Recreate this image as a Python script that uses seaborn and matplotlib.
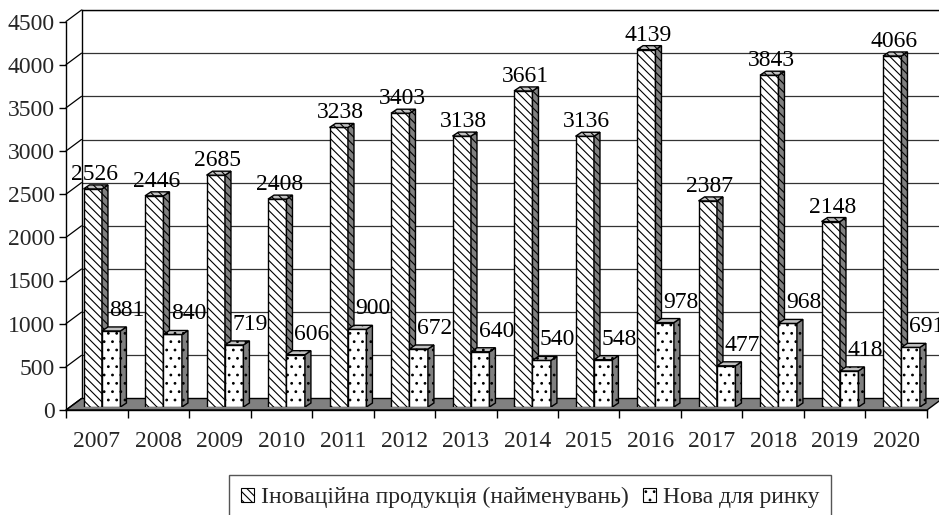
import matplotlib
matplotlib.use('Agg')
import matplotlib.pyplot as plt
import seaborn as sns
import pandas as pd
from matplotlib.patches import Polygon, Patch, Rectangle
from matplotlib.lines import Line2D

# ---------------- data ----------------
years = ['2007', '2008', '2009', '2010', '2011', '2012', '2013',
         '2014', '2015', '2016', '2017', '2018', '2019', '2020']
innov = [2526, 2446, 2685, 2408, 3238, 3403, 3138, 3661, 3136, 4139, 2387, 3843, 2148, 4066]
new_market = [881, 840, 719, 606, 900, 672, 640, 540, 548, 978, 477, 968, 418, 691]
series_names = ['Іноваційна продукція (найменувань)', 'Нова для ринку']
yticks = list(range(0, 4501, 500))

df = pd.DataFrame({
    'year': years * 2,
    'value': innov + new_market,
    'series': [series_names[0]] * len(years) + [series_names[1]] * len(years),
})

# ---------------- style ----------------
sns.set_theme(style='white')
plt.rcParams['font.family'] = ['Liberation Serif', 'DejaVu Serif']
plt.rcParams['hatch.linewidth'] = 0.8
plt.rcParams['hatch.color'] = 'black'
FS = 17
LFS = 17
HATCH1 = '\\\\\\\\'
HATCH2 = '..'

W, H = 939, 515
fig = plt.figure(figsize=(W / 100, H / 100), dpi=100)
fig.patch.set_facecolor('white')

X0, X1 = 66, 927        # front axis extent (px)
Y0, Y1 = 410, 21.5      # front y=0 and y=4500 (px)
DX, DY = 15.5, 11.5     # depth of back wall
BY = 3                  # bars plane raised
XL = (-0.585, 13.415)
YL = (0, 4500)


def rect(x0, x1, y0, y1):
    return [x0 / W, 1 - y0 / H, (x1 - x0) / W, (y0 - y1) / H]


def fx(px):
    return px / W


def fy(py):
    return 1 - py / H


# back wall with gridlines
ax_back = fig.add_axes(rect(X0 + DX, X1 + DX, Y0 - DY, Y1 - DY), zorder=0)
ax_back.set_xlim(XL)
ax_back.set_ylim(YL)
ax_back.set_yticks(yticks)
ax_back.set_xticks([])
ax_back.tick_params(left=False, labelleft=False, bottom=False)
ax_back.grid(axis='y', color='#333333', lw=0.9)
ax_back.grid(axis='x', visible=False)
for s in ['right', 'bottom']:
    ax_back.spines[s].set_visible(False)
for s in ['left', 'top']:
    ax_back.spines[s].set_visible(True)
    ax_back.spines[s].set_color('black')
    ax_back.spines[s].set_linewidth(1)
ax_back.set_facecolor('white')

# floor
floor = Polygon([(fx(X0), fy(Y0)), (fx(X1), fy(Y0)),
                 (fx(X1 + DX), fy(Y0 - DY)), (fx(X0 + DX), fy(Y0 - DY))],
                closed=True, transform=fig.transFigure,
                facecolor='#808080', edgecolor='black', lw=1, zorder=0.5)
fig.add_artist(floor)

# side wall diagonals
for v in yticks:
    py = Y0 - (Y0 - Y1) * v / YL[1]
    fig.add_artist(Line2D([fx(X0), fx(X0 + DX)], [fy(py), fy(py - DY)],
                          transform=fig.transFigure, color='black', lw=0.9, zorder=0.6))

# front axes (ticks and labels)
ax_front = fig.add_axes(rect(X0, X1, Y0, Y1), zorder=1)
ax_front.patch.set_visible(False)
ax_front.set_xlim(XL)
ax_front.set_ylim(YL)
ax_front.grid(False)
for s in ['top', 'right']:
    ax_front.spines[s].set_visible(False)
for s in ['left', 'bottom']:
    ax_front.spines[s].set_visible(True)
    ax_front.spines[s].set_color('black')
    ax_front.spines[s].set_linewidth(1)
ax_front.set_yticks(yticks)
ax_front.set_yticklabels([str(v) for v in yticks], fontsize=FS)
ax_front.tick_params(axis='y', direction='out', length=5, width=1, color='black', pad=3, left=True)
ax_front.set_xticks([i - 0.085 for i in range(len(years))])
ax_front.set_xticklabels(years, fontsize=FS)
ax_front.set_xticks([k - 0.585 for k in range(len(years) + 1)], minor=True)
ax_front.tick_params(axis='x', which='major', length=0, pad=15)
ax_front.tick_params(axis='x', which='minor', direction='out', length=6, width=1, color='black', bottom=True)

# bars
ax_bars = fig.add_axes(rect(X0, X1, Y0 - BY, Y1 - BY), zorder=2)
sns.barplot(data=df, x='year', y='value', hue='series', ax=ax_bars,
            width=0.6, palette=['white', 'white'], saturation=1,
            edgecolor='black', linewidth=1, legend=False)
ax_bars.set_xlim(XL)
ax_bars.set_ylim(YL)
ax_bars.axis('off')

ux = (X1 - X0) / (XL[1] - XL[0])
uy = (Y0 - Y1) / (YL[1] - YL[0])
dxd = 6 / ux
dyd = 4 / uy

for p in list(ax_bars.patches):
    if not isinstance(p, Rectangle):
        continue
    x0 = p.get_x()
    w = p.get_width()
    h = p.get_height()
    cx = x0 + w / 2
    i = int(round(cx))
    first = cx < i
    hatch = HATCH1 if first else HATCH2
    base = 3 + i * 0.1 + (0 if first else 0.03)
    p.set_hatch(hatch)
    p.set_zorder(base)
    x1 = x0 + w
    side = Polygon([(x1, 0), (x1, h), (x1 + dxd, h + dyd), (x1 + dxd, dyd)], closed=True,
                   facecolor='#808080', edgecolor='black', lw=1, hatch=hatch, zorder=base + 0.01)
    top = Polygon([(x0, h), (x1, h), (x1 + dxd, h + dyd), (x0 + dxd, h + dyd)], closed=True,
                  facecolor='#c0c0c0', edgecolor='black', lw=1, hatch=hatch, zorder=base + 0.02)
    ax_bars.add_patch(side)
    ax_bars.add_patch(top)
    if first:
        ax_bars.annotate(str(innov[i]), xy=(cx, h), xytext=(2, 9), textcoords='offset pixels',
                         ha='center', va='baseline', fontsize=FS, color='black', zorder=3 + i * 0.1 + 0.06)
    else:
        ax_bars.annotate(str(new_market[i]), xy=(cx, h), xytext=(16, 15), textcoords='offset pixels',
                         ha='center', va='baseline', fontsize=FS, color='black', zorder=3 + i * 0.1 + 0.07)

# legend
handles = [Patch(facecolor='white', edgecolor='black', hatch=HATCH1, lw=0.8),
           Patch(facecolor='white', edgecolor='black', hatch='..', lw=0.8)]
leg = fig.legend(handles, series_names, loc='upper center',
                 bbox_to_anchor=(530 / W, 1 - 475 / H), ncol=2, fontsize=LFS,
                 frameon=True, fancybox=False, edgecolor='#555555', framealpha=1,
                 borderpad=0.5, handlelength=0.55, handleheight=0.55,
                 handletextpad=0.3, columnspacing=0.6, borderaxespad=0)
leg.get_frame().set_linewidth(1)

fig.savefig('out.png', dpi=100, facecolor='white')
